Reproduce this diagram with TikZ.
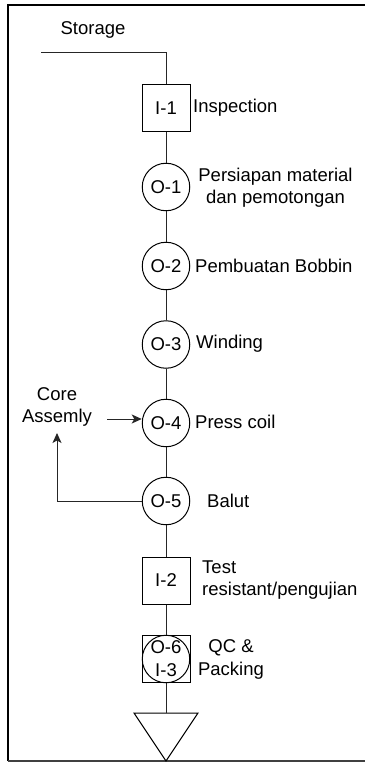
\documentclass[tikz,border=0pt]{standalone}
\usepackage{fontspec}
\setmainfont{Liberation Sans}
\usetikzlibrary{arrows.meta}
\begin{document}
\begin{tikzpicture}[x=1pt,y=-1pt,
  every node/.style={font=\fontsize{18.5}{22}\selectfont},
  opc/.style={draw,circle,minimum size=47.5pt,inner sep=0pt,line width=1pt},
  insp/.style={draw,rectangle,minimum width=48pt,minimum height=47pt,inner sep=0pt,line width=1pt},
  lbl/.style={inner sep=0pt},
  conn/.style={line width=1pt,draw=black!85},
  arr/.style={conn,-{Stealth[length=10pt,width=9pt,inset=2.5pt]}}
]
\useasboundingbox (0,0) rectangle (365,762);
% frame
\draw[line width=2pt] (8,761) -- (8,5) -- (365,5);
\draw[line width=1.5pt,draw=black!75] (8,761) -- (365,761);

% storage
\node[lbl] (storage) at (93,30) {Storage};
\coordinate (st) at (41,53);

% process chain
\node[insp] (i1) at (166,108.5) {I-1};
\node[opc] (o1) at (166,187) {O-1};
\node[opc] (o2) at (166,266) {O-2};
\node[opc] (o3) at (166,344.5) {O-3};
\node[opc] (o4) at (166,423) {O-4};
\node[opc] (o5) at (166,501) {O-5};
\node[insp] (i2) at (166,580.5) {I-2};
\node[insp] (o6box) at (166,659) {};
\node[opc,align=center,font=\fontsize{18.5}{23}\selectfont] (o6) at (166,659) {O-6\\I-3};
\coordinate (tri) at (166,713);
\draw[line width=1pt] (134,713) -- (198,713) -- (166,761) -- cycle;

% labels
\node[lbl,anchor=west] (l1) at (193,108) {Inspection};
\node[lbl,align=center] (l2) at (275.5,188) {Persiapan material\\dan pemotongan};
\node[lbl,anchor=west] (l3) at (195,266) {Pembuatan Bobbin};
\node[lbl,anchor=west] (l4) at (196,344) {Winding};
\node[lbl,anchor=west] (l5) at (195,422) {Press coil};
\node[lbl,anchor=west] (l6) at (207,501) {Balut};
\node[lbl,align=left,anchor=west] (l7) at (202,580) {Test\\resistant/pengujian};
\node[lbl,align=center,font=\fontsize{18.5}{23}\selectfont] (l8) at (231,659) {QC \&\\Packing};
\node[lbl,align=center] (core) at (57,407) {Core\\Assemly};
\coordinate (cin) at (107,419);
\coordinate (fb) at (57,433);

% connectors
\draw[conn] (st) -| (i1.north);
\draw[conn] (i1) -- (o1);
\draw[conn] (o1) -- (o2);
\draw[conn] (o2) -- (o3);
\draw[conn] (o3) -- (o4);
\draw[conn] (o4) -- (o5);
\draw[conn] (o5) -- (i2);
\draw[conn] (i2) -- (o6box);
\draw[conn] (o6box) -- (tri);
\draw[arr] (cin) -- (cin -| o4.west);
\draw[arr] (o5.west) -| (fb);
\end{tikzpicture}
\end{document}
